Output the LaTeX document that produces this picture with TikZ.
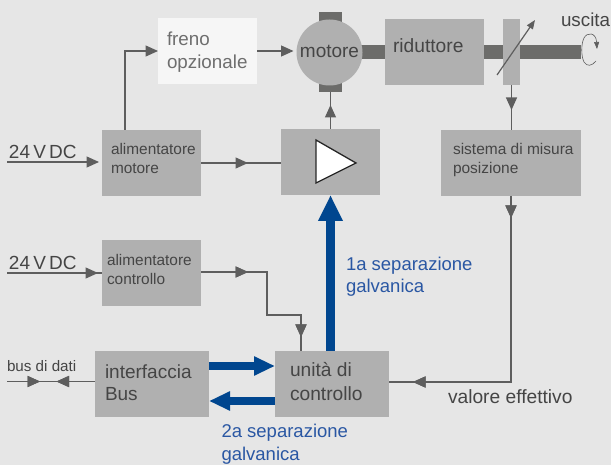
\documentclass[tikz,border=0pt]{standalone}
\usepackage{fontspec}
\setmainfont{Liberation Sans}
\usetikzlibrary{arrows.meta,decorations.markings,calc}
\definecolor{bgc}{HTML}{E6E6E6}
\definecolor{boxc}{HTML}{B0B0B0}
\definecolor{brakec}{HTML}{F6F6F6}
\definecolor{linec}{HTML}{5E5E5E}
\definecolor{shaftc}{HTML}{6C6C6A}
\definecolor{txtc}{HTML}{454545}
\definecolor{braket}{HTML}{6E6E6E}
\definecolor{bluec}{HTML}{00468F}
\definecolor{bluet}{HTML}{2A57A3}
% width, height, inset, first-baseline offset, baselineskip, font size, text
\newcommand\boxtxt[7]{\parbox[c][#2pt][t]{#1pt}{\fontsize{#6pt}{#5pt}\selectfont\raggedright\leftskip=#3pt\rightskip=0pt plus 1fil\relax\rule{0pt}{#4pt}#7}}
\tikzset{
  boxn/.style={fill=boxc,inner sep=0pt,outer sep=0pt,anchor=north west,text=txtc},
  conn/.style={draw=linec,line width=1.2pt},
  tip/.style={-{Triangle[length=12.5pt,width=11pt]}},
  midtip/.style={decoration={markings,mark=at position #1 with {\arrow{Triangle[length=12.5pt,width=11pt]}}},postaction=decorate},
  midback/.style={decoration={markings,mark=at position #1 with {\arrow{Triangle[length=12.5pt,width=11pt,reversed]}}},postaction=decorate},
  sep/.style={draw=bluec,line width=8pt,-{Triangle[length=21pt,width=18pt]}},
  sepbig/.style={draw=bluec,line width=9pt,-{Triangle[length=26pt,width=23pt]}},
  shaft/.style={fill=shaftc,inner sep=0pt,outer sep=0pt},
  lab/.style={inner sep=0pt,outer sep=0pt,anchor=base west,text=txtc,font=\fontsize{19.2pt}{22.5pt}\selectfont,align=left},
  bluelab/.style={lab,text=bluet,font=\fontsize{18.5pt}{22.5pt}\selectfont}
}
\begin{document}
\begin{tikzpicture}[x=1pt,y=-1pt]
\useasboundingbox (0,0) rectangle (611,465);
\fill[bgc] (0,0) rectangle (611,465);
% shafts and brushes
\node[shaft,minimum width=23pt,minimum height=10pt] (brushtop) at (330,17) {};
\node[shaft,minimum width=23pt,minimum height=10pt] (brushbot) at (330,87) {};
\node[shaft,minimum width=30pt,minimum height=14pt] (shaftA) at (370,52) {};
\node[shaft,minimum width=97pt,minimum height=14pt,anchor=west] (shaftB) at (484,52) {};
% boxes
\node[boxn,fill=brakec,text=braket] (freno) at (158,18) {\boxtxt{99}{66}{9}{28}{22.5}{18.8}{freno\\opzionale}};
\node[circle,fill=boxc,minimum size=66pt,inner sep=0pt,outer sep=0pt,text=txtc,font=\fontsize{19pt}{22pt}\selectfont] (motor) at (329.5,52.5) {\raisebox{2pt}{motore}};
\node[boxn] (rid) at (385,19) {\boxtxt{99}{66}{8}{34}{22.5}{19.2}{riduttore}};
\node[boxn,minimum width=17pt,minimum height=66pt] (sens) at (503,19) {};
\node[boxn] (almot) at (102,130) {\boxtxt{99}{66}{9}{25}{19}{15.4}{alimentatore\\motore}};
\node[boxn,minimum width=99pt,minimum height=66pt] (amp) at (281,129) {};
\node[boxn] (sist) at (441,130) {\boxtxt{140}{66}{12}{25}{19}{15.5}{sistema di misura\\posizione}};
\node[boxn] (alcon) at (102,240) {\boxtxt{99}{66}{5}{26}{19}{15.4}{alimentatore\\controllo}};
\node[boxn] (unit) at (275,351) {\boxtxt{114}{66}{15}{26}{23}{19.2}{unità di\\controllo}};
\node[boxn] (iface) at (95,351) {\boxtxt{114}{66}{10}{27}{22.5}{19}{interfaccia\\Bus}};
% amplifier symbol
\draw[fill=white,draw=black!85,line width=1.3pt,line join=miter] (316,140) -- (356,163) -- (316,183) -- cycle;
% free ends
\coordinate (va) at (7,162);
\coordinate (vb) at (7,273);
\coordinate (busend) at (7,381.5);
% connectors
\draw[conn,tip,shorten >=3pt] (va) -- (va -| almot.west);
\draw[conn,midtip=91pt] (vb) -- (vb -| alcon.west);
\draw[conn,tip] ([xshift=-26.5pt]almot.north) |- (freno.west);
\draw[conn,tip,shorten >=3pt] (freno.east) -- (motor.west |- freno.east);
\draw[conn,midtip=47pt] (almot.east) -- (almot.east -| amp.west);
\draw[conn,midtip=24pt] (amp.north) -- (amp.north |- brushbot.south);
\draw[conn,midtip=25pt] (sens.south) -- (sens.south |- sist.north);
\draw[conn,midtip=22pt,midtip=284pt] (sist.south) |- ([yshift=2pt]unit.east);
\draw[conn,midtip=47pt,midtip=165pt] ([yshift=1pt]alcon.east) -| ++(66,43) -| ([xshift=-31pt]unit.north);
\draw[conn,midtip=33pt,midback=62pt] (busend) -- (busend -| iface.west);
% galvanic separation
\draw[sepbig] (amp.south |- unit.north) -- (amp.south);
\draw[sep] ([yshift=18pt]iface.east) -- ([yshift=18pt]unit.west);
\draw[sep] ([yshift=-17pt]unit.west) -- ([yshift=-17pt]iface.east);
% position sensor adjust arrow and output rotation
\coordinate (adjA) at (497,75);
\coordinate (adjB) at (535,20);
\draw[conn,-{Triangle[length=9pt,width=7pt]}] (adjA) -- (adjB);
\coordinate (rotA) at (596,61);
\coordinate (rotB) at (597,49);
\draw[draw=linec,line width=.6pt,-{Triangle[length=7pt,width=5pt]}] (rotA) .. controls (592,66) and (587,67) .. (584,62) .. controls (581,56) and (581,44) .. (584,38) .. controls (587,32) and (596,32) .. (rotB);
% labels
\node[lab,font=\fontsize{18.8pt}{22pt}\selectfont] (uscita) at (561,27) {uscita};
\node[lab,font=\fontsize{19pt}{22pt}\selectfont] (vlabA) at (9,159) {24\,V\,DC};
\node[lab,font=\fontsize{19pt}{22pt}\selectfont] (vlabB) at (9,270) {24\,V\,DC};
\node[lab,font=\fontsize{15.2pt}{18pt}\selectfont] (buslab) at (7,371) {bus di dati};
\node[lab] (valore) at (448,403) {valore effettivo};
\node[bluelab] (sepA) at (346,292.7) {1a separazione\\galvanica};
\node[bluelab] (sepB) at (221.5,460) {2a separazione\\galvanica};
\end{tikzpicture}
\end{document}
